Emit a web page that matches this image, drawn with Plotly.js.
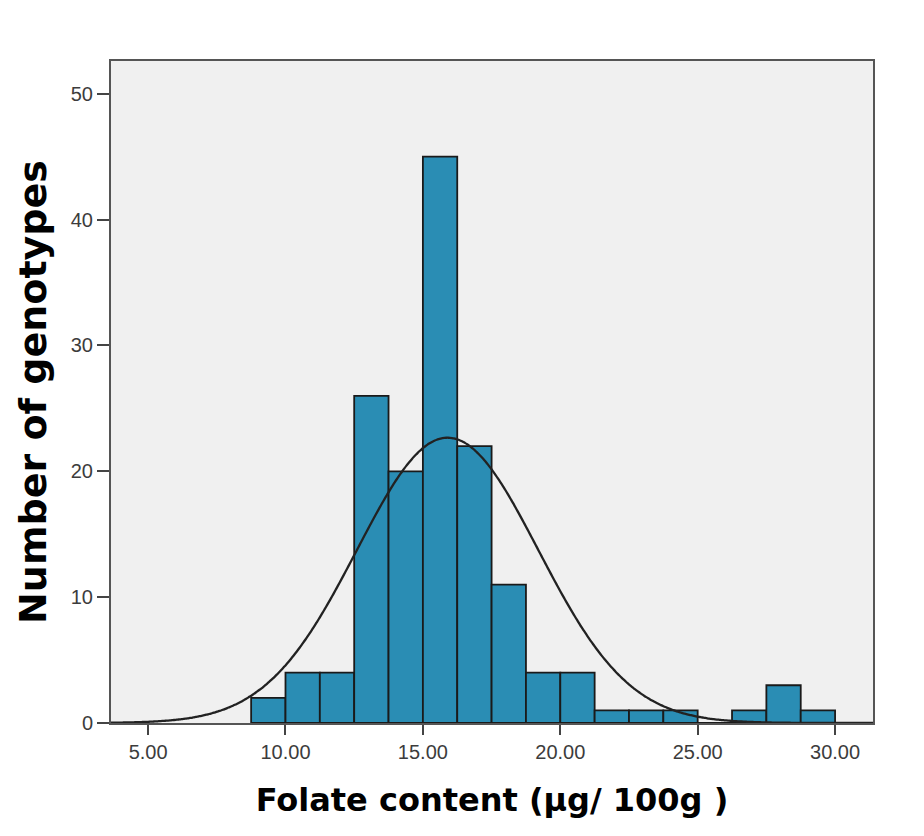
<!DOCTYPE html>
<html>
<head>
<meta charset="utf-8">
<script src="https://cdn.plot.ly/plotly-3.0.1.min.js"></script>
<style>html,body{margin:0;padding:0;background:#fff;}#chart{width:924px;height:836px;}</style>
</head>
<body>
<div id="chart"></div>
<script>
// Histogram bins (left edges, µg/100g) and counts
const binLeftEdges = [8.75, 10.00, 11.25, 12.50, 13.75, 15.00, 16.25, 17.50, 18.75, 20.00, 21.25, 22.50, 23.75, 25.00, 26.25, 27.50, 28.75];
const binCounts    = [2,    4,     4,     26,    20,    45,    22,    11,    4,     4,     1,     1,     1,     0,     1,     3,     1];
const binWidth = 1.25;

// Fitted normal curve parameters (as shown by the overlaid curve)
const curveMean = 15.9;
const curveSD = 3.3;
const curveN = 150;

// Axis ticks
const xTickVals = [5, 10, 15, 20, 25, 30];
const xTickText = ['5.00', '10.00', '15.00', '20.00', '25.00', '30.00'];
const yTickVals = [0, 10, 20, 30, 40, 50];

const xRange = [3.65, 31.38];
const yRange = [0, 52.6];

const binCenters = binLeftEdges.map(e => e + binWidth / 2);

const curveX = [];
const curveY = [];
const steps = 400;
for (let i = 0; i <= steps; i++) {
  const x = xRange[0] + (xRange[1] - xRange[0]) * i / steps;
  const z = (x - curveMean) / curveSD;
  curveX.push(x);
  curveY.push(curveN * binWidth / (curveSD * Math.sqrt(2 * Math.PI)) * Math.exp(-0.5 * z * z));
}

const bars = {
  type: 'bar',
  x: binCenters,
  y: binCounts,
  width: binWidth,
  marker: { color: '#2a8db4', line: { color: '#1a1a1a', width: 1.8 } },
  hoverinfo: 'x+y'
};

const curve = {
  type: 'scatter',
  mode: 'lines',
  x: curveX,
  y: curveY,
  line: { color: '#222222', width: 2.3, shape: 'spline' },
  hoverinfo: 'skip'
};

const tickFont = { family: 'Liberation Sans, Arial, sans-serif', size: 20, color: '#3c3c3c' };
const titleFont = { family: 'DejaVu Sans, sans-serif', size: 32, color: '#000', weight: 'bold' };

const layout = {
  width: 924,
  height: 836,
  margin: { l: 111, r: 51, t: 61, b: 113 },
  paper_bgcolor: '#ffffff',
  plot_bgcolor: '#f0f0f0',
  showlegend: false,
  bargap: 0,
  xaxis: {
    range: xRange,
    tickvals: xTickVals,
    ticktext: xTickText,
    ticks: 'outside',
    ticklen: 10,
    tickwidth: 2,
    tickcolor: '#444',
    showgrid: false,
    zeroline: false,
    showline: true,
    linecolor: '#555',
    linewidth: 2,
    mirror: true,
    tickfont: tickFont,
    title: { text: 'Folate content (µg/ 100g )', font: titleFont, standoff: 27 }
  },
  yaxis: {
    range: yRange,
    tickvals: yTickVals,
    ticks: 'outside',
    ticklen: 12,
    tickwidth: 2,
    tickcolor: '#444',
    showgrid: false,
    zeroline: false,
    showline: true,
    linecolor: '#555',
    linewidth: 2,
    mirror: true,
    tickfont: tickFont,
    title: { text: 'Number of genotypes', font: { family: 'DejaVu Sans, sans-serif', size: 38, color: '#000', weight: 'bold' }, standoff: 12 }
  }
};

Plotly.newPlot('chart', [bars, curve], layout, { displayModeBar: false, staticPlot: true });
</script>
</body>
</html>
